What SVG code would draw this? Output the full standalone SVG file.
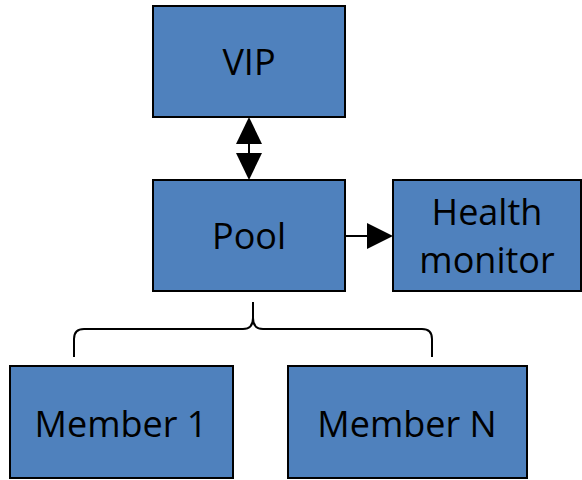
<svg xmlns="http://www.w3.org/2000/svg" width="582" height="480" viewBox="0 0 582 480">
  <style>
    .box { fill: #4f81bd; stroke: #000; stroke-width: 2; }
    .lbl { font-family: "Open Sans", Lato, sans-serif; font-size: 36px; fill: #000; text-anchor: middle; }
    .wire { fill: none; stroke: #000; stroke-width: 2; }
    .head { fill: #000; }
  </style>
  <rect width="582" height="480" fill="#fff"/>

  <g id="vip">
    <rect class="box" x="153" y="6" width="192" height="111"/>
    <text class="lbl" x="249" y="75">VIP</text>
  </g>
  <g id="pool">
    <rect class="box" x="153" y="180" width="192" height="111"/>
    <text class="lbl" x="249" y="249">Pool</text>
  </g>
  <g id="health-monitor">
    <rect class="box" x="393" y="180" width="188" height="111"/>
    <text class="lbl" x="487" y="225">Health</text>
    <text class="lbl" x="487" y="273">monitor</text>
  </g>
  <g id="member-1">
    <rect class="box" x="10" y="366" width="223" height="112"/>
    <text class="lbl" x="121" y="437">Member 1</text>
  </g>
  <g id="member-n">
    <rect class="box" x="288" y="366" width="239" height="112"/>
    <text class="lbl" x="407" y="437">Member N</text>
  </g>

  <g id="connectors">
    <!-- VIP <-> Pool -->
    <line class="wire" x1="249" y1="140" x2="249" y2="157"/>
    <polygon class="head" points="249,117 262,144 236,144"/>
    <polygon class="head" points="249,180 262,153 236,153"/>
    <!-- Pool -> Health monitor -->
    <line class="wire" x1="345" y1="236" x2="370" y2="236"/>
    <polygon class="head" points="393,236 367,223 367,249"/>
    <!-- Pool to members brace -->
    <path class="wire" d="M253,302 L253,318 Q253,329 243,329 L84,329 Q74,329 74,339 L74,357"/>
    <path class="wire" d="M253,318 Q253,329 263,329 L422,329 Q432,329 432,339 L432,357"/>
  </g>
</svg>
